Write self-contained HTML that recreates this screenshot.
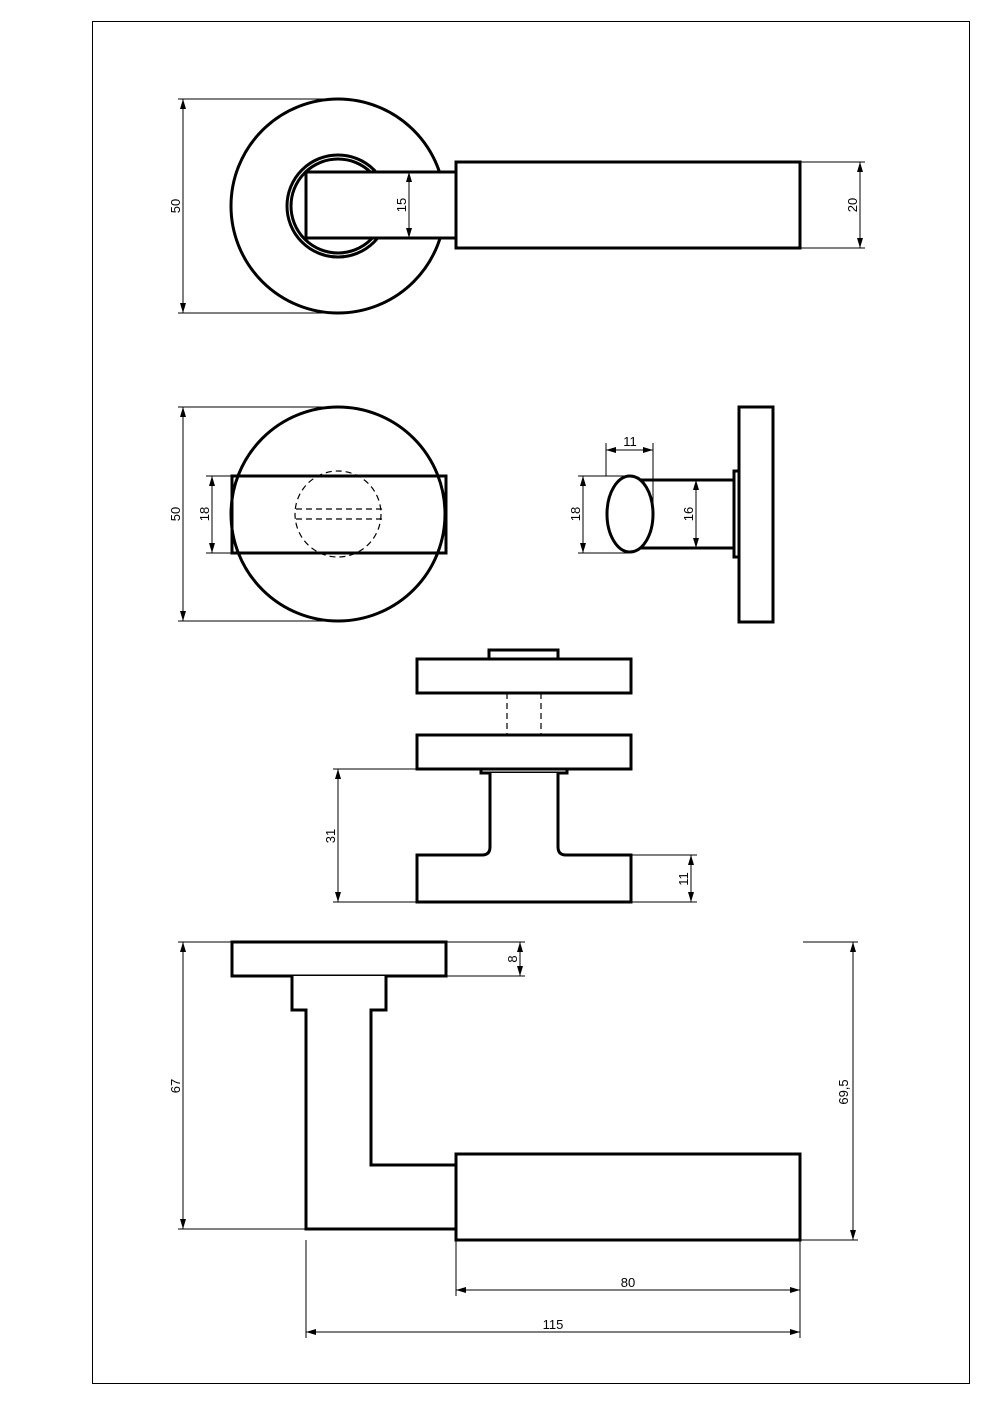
<!DOCTYPE html>
<html><head><meta charset="utf-8"><style>
html,body{margin:0;padding:0;background:#fff;}
svg{display:block;}
text{font-family:"Liberation Sans",sans-serif;font-size:13px;fill:#000;}
.k{fill:#fff;stroke:#000;stroke-width:3;}
.kn{fill:none;stroke:#000;stroke-width:3;}
.d{stroke:#000;stroke-width:1;fill:none;}
.da{stroke:#000;stroke-width:1;fill:none;marker-start:url(#a);marker-end:url(#a);}
.h{stroke:#000;stroke-width:1.2;fill:none;stroke-dasharray:6 4;}
</style></head><body>
<svg width="994" height="1407" viewBox="0 0 994 1407" xmlns="http://www.w3.org/2000/svg">
<defs><marker id="a" viewBox="0 0 10 6" refX="10" refY="3" markerWidth="10" markerHeight="6" orient="auto-start-reverse" markerUnits="userSpaceOnUse"><path d="M0,0 L10,3 L0,6 Z" fill="#000"/></marker></defs>
<rect x="92.5" y="21.5" width="877" height="1362" fill="none" stroke="#000" stroke-width="1"/>

<!-- View 1 -->
<circle cx="338" cy="206" r="107" class="k"/>
<circle cx="338" cy="206" r="51" class="kn" stroke-width="2"/>
<circle cx="338" cy="206" r="47" class="kn" stroke-width="2"/>
<rect x="306" y="172" width="150" height="66" class="k"/>
<rect x="456" y="162" width="344" height="86" class="k"/>
<line x1="178" y1="99" x2="338" y2="99" class="d"/>
<line x1="178" y1="313" x2="338" y2="313" class="d"/>
<line x1="183" y1="99" x2="183" y2="313" class="da"/>
<text transform="translate(180,206) rotate(-90)" text-anchor="middle">50</text>
<line x1="409" y1="172" x2="409" y2="238" class="da"/>
<text transform="translate(406,205) rotate(-90)" text-anchor="middle">15</text>
<line x1="800" y1="162" x2="865" y2="162" class="d"/>
<line x1="800" y1="248" x2="865" y2="248" class="d"/>
<line x1="860" y1="162" x2="860" y2="248" class="da"/>
<text transform="translate(857,205) rotate(-90)" text-anchor="middle">20</text>

<!-- View 2 -->
<circle cx="338" cy="514" r="107" class="k"/>
<rect x="232" y="476" width="214" height="77" class="kn"/>
<circle cx="338" cy="514" r="43" class="h"/>
<line x1="296" y1="509" x2="382" y2="509" class="h"/>
<line x1="296" y1="519" x2="382" y2="519" class="h"/>
<line x1="178" y1="407" x2="338" y2="407" class="d"/>
<line x1="178" y1="621" x2="338" y2="621" class="d"/>
<line x1="183" y1="407" x2="183" y2="621" class="da"/>
<text transform="translate(180,514) rotate(-90)" text-anchor="middle">50</text>
<line x1="206" y1="476" x2="232" y2="476" class="d"/>
<line x1="206" y1="553" x2="232" y2="553" class="d"/>
<line x1="212" y1="476" x2="212" y2="553" class="da"/>
<text transform="translate(209,514) rotate(-90)" text-anchor="middle">18</text>

<!-- View 3 -->
<rect x="739" y="407" width="34" height="215" class="k"/>
<rect x="734" y="471" width="5" height="86" class="k" stroke-width="2"/>
<line x1="640" y1="480" x2="734" y2="480" class="kn"/>
<line x1="640" y1="548" x2="734" y2="548" class="kn"/>
<ellipse cx="630" cy="514" rx="23" ry="38" class="k"/>
<line x1="606" y1="443" x2="606" y2="476" class="d"/>
<line x1="653" y1="443" x2="653" y2="514" class="d"/>
<line x1="606" y1="450" x2="653" y2="450" class="da"/>
<text x="630" y="446" text-anchor="middle">11</text>
<line x1="578" y1="476" x2="630" y2="476" class="d"/>
<line x1="578" y1="553" x2="630" y2="553" class="d"/>
<line x1="583" y1="476" x2="583" y2="553" class="da"/>
<text transform="translate(580,514) rotate(-90)" text-anchor="middle">18</text>
<line x1="696" y1="480" x2="696" y2="548" class="da"/>
<text transform="translate(693,514) rotate(-90)" text-anchor="middle">16</text>

<!-- View 4 -->
<rect x="489" y="650" width="69" height="9" class="k" stroke-width="2"/>
<rect x="417" y="659" width="214" height="34" class="k"/>
<line x1="507" y1="693" x2="507" y2="735" class="h"/>
<line x1="541" y1="693" x2="541" y2="735" class="h"/>
<rect x="417" y="735" width="214" height="34" class="k"/>
<rect x="481" y="769" width="86" height="4" class="k" stroke-width="2"/>
<path d="M490,773 L490,847 Q490,855 482,855 L417,855 L417,902 L631,902 L631,855 L566,855 Q558,855 558,847 L558,773" class="k"/>
<line x1="333" y1="769" x2="417" y2="769" class="d"/>
<line x1="333" y1="902" x2="417" y2="902" class="d"/>
<line x1="338" y1="769" x2="338" y2="902" class="da"/>
<text transform="translate(335,836) rotate(-90)" text-anchor="middle">31</text>
<line x1="631" y1="855" x2="697" y2="855" class="d"/>
<line x1="631" y1="902" x2="697" y2="902" class="d"/>
<line x1="691" y1="855" x2="691" y2="902" class="da"/>
<text transform="translate(688,879) rotate(-90)" text-anchor="middle">11</text>

<!-- View 5 -->
<rect x="232" y="942" width="214" height="34" class="k"/>
<path d="M292,976 L292,1010 L306,1010 L306,1229 L456,1229 L456,1165 L371,1165 L371,1010 L386,1010 L386,976" class="k"/>
<rect x="456" y="1154" width="344" height="86" class="k"/>
<line x1="446" y1="942" x2="525" y2="942" class="d"/>
<line x1="446" y1="976" x2="525" y2="976" class="d"/>
<line x1="520" y1="942" x2="520" y2="976" class="da"/>
<text transform="translate(517,959) rotate(-90)" text-anchor="middle">8</text>
<line x1="178" y1="942" x2="232" y2="942" class="d"/>
<line x1="178" y1="1229" x2="306" y2="1229" class="d"/>
<line x1="183" y1="942" x2="183" y2="1229" class="da"/>
<text transform="translate(180,1086) rotate(-90)" text-anchor="middle">67</text>
<line x1="803" y1="942" x2="858" y2="942" class="d"/>
<line x1="800" y1="1240" x2="858" y2="1240" class="d"/>
<line x1="853" y1="942" x2="853" y2="1240" class="da"/>
<text transform="translate(848,1092) rotate(-90)" text-anchor="middle">69,5</text>
<line x1="456" y1="1240" x2="456" y2="1296" class="d"/>
<line x1="800" y1="1240" x2="800" y2="1338" class="d"/>
<line x1="456" y1="1290" x2="800" y2="1290" class="da"/>
<text x="628" y="1287" text-anchor="middle">80</text>
<line x1="306" y1="1240" x2="306" y2="1338" class="d"/>
<line x1="306" y1="1332" x2="800" y2="1332" class="da"/>
<text x="553" y="1329" text-anchor="middle">115</text>
</svg>
</body></html>
